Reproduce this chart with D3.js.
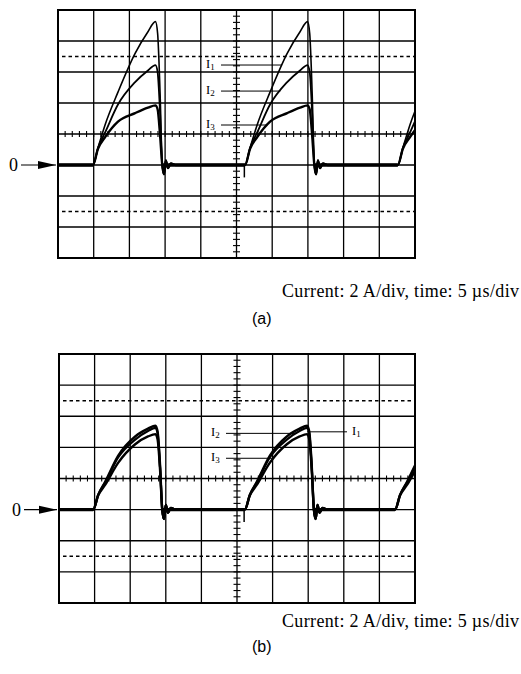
<!DOCTYPE html>
<html>
<head>
<meta charset="utf-8">
<script src="https://cdn.jsdelivr.net/npm/d3@7"></script>
<style>
body { margin: 0; background: #fff; }
.grid { stroke: #000; stroke-width: 1.3; fill: none; }
.frame { stroke: #000; stroke-width: 2; fill: none; }
.dash { stroke: #000; stroke-width: 1.6; stroke-dasharray: 3.5,3; }
.minor { stroke: #000; stroke-width: 1.1; }
.trace { fill: none; stroke: #000; stroke-linejoin: round; }
.base { stroke: #000; stroke-width: 3.4; }
.leader { stroke: #000; stroke-width: 1; }
.lbl { font-family: "Liberation Serif", "DejaVu Serif", serif; font-size: 12.5px; fill: #000; }
.zero { font-family: "Liberation Serif", serif; font-size: 18px; }
.caption { font-family: "Liberation Serif", serif; font-size: 18px; }
.tag { font-family: "Liberation Sans", Arial, sans-serif; font-size: 16px; }
</style>
</head>
<body>
<div id="chart"></div>
<script>
// scope grid: 10 div x 5 us, 8 div x 2 A, zero at 5 div from top
const timeTicks = d3.range(0, 51, 5);
const currentTicks = d3.range(-6, 11, 2);
const dashedLevels = [7, -3];

// one pulse (us from pulse start, A)
const pulseOffsets = [0, 0.7, 1.7, 3.5, 5.9, 7.7, 8.75, 9.05, 9.4, 9.7];
const ringOffsets = [9.95, 10.2, 10.5, 10.9, 11.6];
const ringValues = [-0.6, 0.3, -0.2, 0.1, 0];

const startsA = [4.9, 26.2, 47.6];
const i1A = [0, 1.1, 2.6, 4.7, 7.2, 8.6, 9.25, 8.5, 4.6, 0];
const i2A = [0, 1.1, 2.1, 3.9, 5.35, 6.1, 6.45, 6.0, 3.3, 0];
const i3A = [0, 1.05, 1.8, 2.8, 3.35, 3.7, 3.85, 3.6, 1.9, 0];
const labelNamesA = ["1", "2", "3"];
const labelLevelsA = [6.45, 4.77, 2.58];

const startsB = [4.8, 26.1, 47.2];
const i1B = [0, 0.95, 1.8, 3.45, 4.7, 5.2, 5.4, 5.0, 2.8, 0];
const i2B = [0, 0.95, 1.75, 3.35, 4.5, 5.05, 5.25, 4.9, 2.7, 0];
const i3B = [0, 0.9, 1.6, 3.0, 4.2, 4.7, 4.85, 4.5, 2.5, 0];
const labelNamesB = ["2", "3", "1"];
const labelLevelsB = [4.9, 3.3, 5.0];

const captionText = "Current: 2 A/div, time: 5 \u00b5s/div";

const svg = d3.select("#chart").append("svg").attr("width", 521).attr("height", 674);

function drawPanel(cfg) {
    let x = d3.scaleLinear().domain([0, 50]).range([cfg.left, cfg.left + cfg.width]);
    let y = d3.scaleLinear().domain([-6, 10]).range([cfg.top + cfg.height, cfg.top]);
    let g = svg.append("g");

    g.selectAll(".vgrid").data(timeTicks).join("line").attr("class", "grid")
        .attr("x1", d => x(d)).attr("x2", d => x(d)).attr("y1", y(-6)).attr("y2", y(10));
    g.selectAll(".hgrid").data(currentTicks).join("line").attr("class", "grid")
        .attr("x1", x(0)).attr("x2", x(50)).attr("y1", d => y(d)).attr("y2", d => y(d));
    g.selectAll(".dashline").data(dashedLevels).join("line").attr("class", "dash")
        .attr("x1", x(0) + 4).attr("x2", x(50)).attr("y1", d => y(d)).attr("y2", d => y(d));

    // minor ticks on the centre cross
    g.selectAll(".tv").data(d3.range(-6, 10.01, 0.4)).join("line").attr("class", "minor")
        .attr("x1", x(25) - 3.5).attr("x2", x(25) + 3.5).attr("y1", d => y(d)).attr("y2", d => y(d));
    g.selectAll(".th").data(d3.range(0, 50.01, 1)).join("line").attr("class", "minor")
        .attr("x1", d => x(d)).attr("x2", d => x(d)).attr("y1", y(2) - 3).attr("y2", y(2) + 3);

    g.append("rect").attr("class", "frame").attr("x", x(0)).attr("y", y(10))
        .attr("width", x(50) - x(0)).attr("height", y(-6) - y(10));

    let clipId = "clip" + cfg.id;
    svg.append("clipPath").attr("id", clipId).append("rect")
        .attr("x", x(0)).attr("y", y(10)).attr("width", x(50) - x(0)).attr("height", y(-6) - y(10));
    let traces = g.append("g").attr("clip-path", "url(#" + clipId + ")");

    // thick noisy baseline between pulses
    let gaps = [[0, cfg.starts[0]]];
    cfg.starts.forEach((s, k) => gaps.push([s + 9.7, k + 1 < cfg.starts.length ? cfg.starts[k + 1] : 50]));
    traces.selectAll(".base").data(gaps).join("line").attr("class", "base")
        .attr("x1", d => x(d[0])).attr("x2", d => x(d[1])).attr("y1", y(0)).attr("y2", y(0));

    let line = d3.line().x(d => x(d[0])).y(d => y(d[1])).curve(d3.curveMonotoneX);
    cfg.series.forEach((vals, si) => {
        let pts = [[0, 0]];
        cfg.starts.forEach(s => {
            pulseOffsets.forEach((o, k) => pts.push([s + o, vals[k]]));
            ringOffsets.forEach((o, k) => pts.push([s + o, ringValues[k]]));
        });
        pts.push([50, 0]);
        traces.append("path").attr("class", "trace").attr("d", line(pts))
            .attr("stroke-width", cfg.widths[si]);
    });

    // trigger spike at the second pulse
    traces.append("line").attr("stroke", "#000").attr("stroke-width", 1.5)
        .attr("x1", x(cfg.starts[1] - 0.1)).attr("x2", x(cfg.starts[1] - 0.1))
        .attr("y1", y(0)).attr("y2", y(-0.8));

    // labels with leaders to the second pulse
    cfg.labelNames.forEach((name, k) => {
        let level = cfg.labelLevels[k];
        let vals = cfg.series[+name - 1];
        let ly = y(level);
        let lx, x1, x2;
        if (cfg.rightLabel === name) {
            x1 = x(cfg.starts[1] + 8.75);
            x2 = cfg.rightLabelX - 5;
            lx = cfg.rightLabelX;
        } else {
            let rise = d3.scaleLinear().domain(vals.slice(0, 7)).range(pulseOffsets.slice(0, 7));
            x1 = cfg.labelX + 15;
            x2 = x(cfg.starts[1] + rise(level));
            lx = cfg.labelX;
        }
        g.append("line").attr("class", "leader").attr("x1", x1).attr("x2", x2).attr("y1", ly).attr("y2", ly);
        let t = g.append("text").attr("class", "lbl").attr("x", lx).attr("y", ly + 3);
        t.append("tspan").text("I");
        t.append("tspan").attr("font-size", "9px").attr("dy", 2).text(name);
    });

    // zero marker
    g.append("text").attr("class", "zero").attr("x", cfg.zeroX).attr("y", y(0) + 6).text("0");
    g.append("line").attr("stroke", "#000").attr("stroke-width", 1.2)
        .attr("x1", cfg.zeroX + 12).attr("x2", x(0) - 2).attr("y1", y(0)).attr("y2", y(0));
    g.append("path").attr("fill", "#000")
        .attr("d", "M" + (x(0) - 20) + "," + (y(0) - 4) + "L" + (x(0) - 2) + "," + y(0) + "L" + (x(0) - 20) + "," + (y(0) + 4) + "Z");

    svg.append("text").attr("class", "caption").attr("x", 282).attr("y", cfg.captionY)
        .attr("textLength", 237).attr("lengthAdjust", "spacing").text(captionText);
    svg.append("text").attr("class", "tag").attr("x", 252).attr("y", cfg.tagY).text(cfg.tag);
}

drawPanel({ id: "a", left: 58, top: 10, width: 357, height: 248, starts: startsA,
    series: [i1A, i2A, i3A], widths: [1.6, 1.8, 2.4],
    labelNames: labelNamesA, labelLevels: labelLevelsA, labelX: 206, rightLabel: null,
    zeroX: 9, captionY: 297, tagY: 324, tag: "(a)" });

drawPanel({ id: "b", left: 59, top: 354, width: 356, height: 249, starts: startsB,
    series: [i1B, i2B, i3B], widths: [2.4, 2.2, 2.4],
    labelNames: labelNamesB, labelLevels: labelLevelsB, labelX: 211, rightLabel: "1", rightLabelX: 352,
    zeroX: 12, captionY: 627, tagY: 652, tag: "(b)" });
</script>
</body>
</html>
